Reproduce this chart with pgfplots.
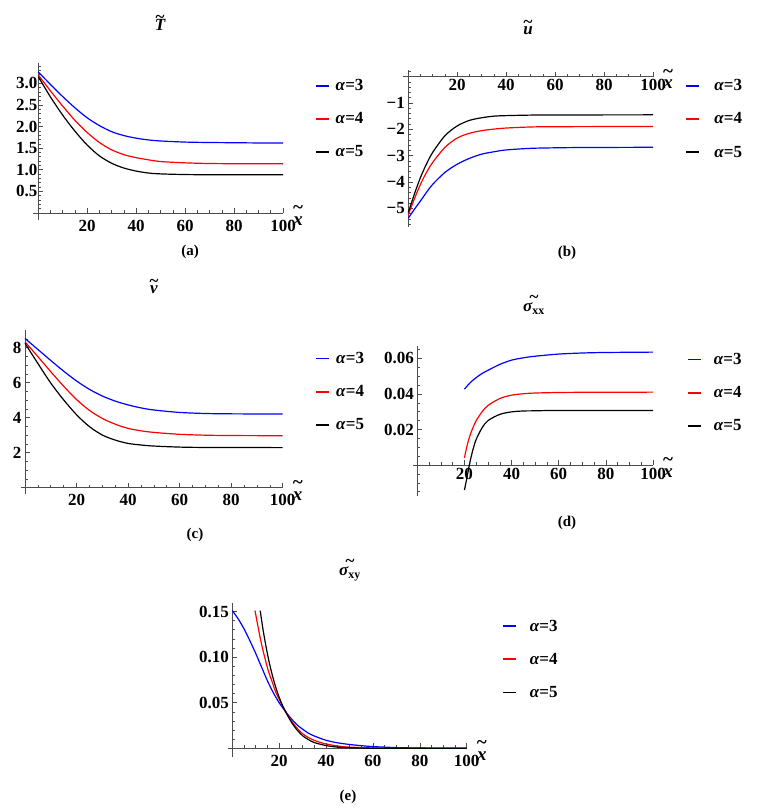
\documentclass[border=0pt]{standalone}
\usepackage{fontspec}
\setmainfont{Liberation Serif}
\usepackage{pgfplots}
\pgfplotsset{compat=1.18}
\newcommand\tld[2]{\ooalign{#2\cr\hidewidth\raisebox{#1}{\bfseries\upshape\char"7E}\hidewidth\cr}}
\newcommand\xt{{\fontsize{19}{22}\selectfont\tld{0.62em}{\bfseries\itshape x}}}
\newcommand\tfont{\fontsize{17}{20}\selectfont\bfseries}
\pgfplotsset{
  panel/.style={
    scale only axis, clip=false,
    axis lines=middle,
    every inner x axis line/.append style={-},
    every inner y axis line/.append style={-},
    axis line style={black!70, line width=0.7pt},
    tick align=inside,
    major tick length=5pt, minor tick length=3pt,
    every tick/.style={black!70, line width=0.6pt},
    tick label style={font=\tfont},
    scaled x ticks=false, scaled y ticks=false,
    xmax=100,
    xtick={20,40,60,80,100}, xticklabels={20,40,60,80,100},
    minor xtick={5,10,15,25,30,35,45,50,55,65,70,75,85,90,95},
    xlabel={\xt},
    xlabel style={at={(current axis.right of origin)}, anchor=center, xshift=15pt, yshift=-8pt},
    legend style={draw=none, fill=none, inner sep=0pt, anchor=west, font=\tfont,
      row sep=16.5pt, cells={inner sep=0pt}},
    legend cell align=left,
    legend image code/.code={\draw[line width=1.8pt,#1] (0pt,0pt) -- (13.3pt,0pt);},
  },
  cb/.style={draw=blue, line width=1.2pt, smooth},
  cr/.style={draw=red, line width=1.2pt, smooth},
  ck/.style={draw=black, line width=1.2pt, smooth},
}
\newcommand\threelegend{%
  \addlegendimage{draw=blue}\addlegendentry{\textit{α}=3}
  \addlegendimage{draw=red}\addlegendentry{\textit{α}=4}
  \addlegendimage{draw=black}\addlegendentry{\textit{α}=5}}
\begin{document}
\begin{tikzpicture}
\useasboundingbox (0,0) rectangle (761pt,809pt);
% (a)
\begin{axis}[panel, at={(33.4pt,589pt)}, anchor=south west, width=249.6pt, height=156.7pt,
  xmin=-2, ymin=-0.16, ymax=3.46,
  ytick={0.5,1.0,1.5,2.0,2.5,3.0}, yticklabels={0.5,1.0,1.5,2.0,2.5,3.0},
  minor ytick={0.1,0.2,0.3,0.4,0.6,0.7,0.8,0.9,1.1,1.2,1.3,1.4,1.6,1.7,1.8,1.9,2.1,2.2,2.3,2.4,2.6,2.7,2.8,2.9,3.1,3.2,3.3,3.4},
  xticklabel style={yshift=-4pt}, yticklabel style={xshift=2.5pt},
  legend style={at={(1.128,0.645)}, column sep=3.4pt}]
\threelegend
\addplot[cb, forget plot] coordinates {(0,3.26)(5,2.97)(10,2.69)(15,2.43)(20,2.20)(25,2.02)(30,1.88)(35,1.79)(40,1.73)(45,1.69)(50,1.665)(60,1.64)(70,1.63)(80,1.625)(90,1.62)(100,1.62)};
\addplot[cr, forget plot] coordinates {(0,3.19)(5,2.82)(10,2.47)(15,2.14)(20,1.86)(25,1.63)(30,1.46)(35,1.35)(40,1.28)(45,1.23)(50,1.19)(60,1.16)(70,1.145)(80,1.14)(90,1.14)(100,1.14)};
\addplot[ck, forget plot] coordinates {(0,3.15)(5,2.68)(10,2.26)(15,1.89)(20,1.57)(25,1.32)(30,1.15)(35,1.04)(40,0.97)(45,0.925)(50,0.905)(60,0.89)(70,0.885)(80,0.885)(100,0.885)};
\end{axis}
% (b)
\begin{axis}[panel, at={(403.4pt,582.3pt)}, anchor=south west, width=249.6pt, height=156.7pt,
  xmin=-2, ymin=-5.69, ymax=0.25,
  ytick={-5,-4,-3,-2,-1}, yticklabels={−5,−4,−3,−2,−1},
  minor ytick={-5.6,-5.4,-5.2,-4.8,-4.6,-4.4,-4.2,-3.8,-3.6,-3.4,-3.2,-2.8,-2.6,-2.4,-2.2,-1.8,-1.6,-1.4,-1.2,-0.8,-0.6,-0.4,-0.2,0.2},
  xticklabel style={yshift=1pt},
  legend style={at={(1.128,0.687)}, column sep=12pt}]
\threelegend
\addplot[cb, forget plot] coordinates {(0,-5.37)(2.5,-5.03)(5,-4.71)(7.5,-4.38)(10,-4.08)(15,-3.63)(20,-3.32)(25,-3.10)(30,-2.94)(35,-2.85)(40,-2.78)(50,-2.72)(60,-2.70)(70,-2.69)(100,-2.68)};
\addplot[cr, forget plot] coordinates {(0,-5.24)(2.5,-4.63)(5,-4.08)(7.5,-3.62)(10,-3.25)(15,-2.68)(20,-2.33)(25,-2.15)(30,-2.05)(35,-1.99)(40,-1.95)(50,-1.91)(60,-1.90)(100,-1.89)};
\addplot[ck, forget plot] coordinates {(0,-5.15)(2.5,-4.45)(5,-3.82)(7.5,-3.30)(10,-2.87)(15,-2.24)(20,-1.87)(25,-1.66)(30,-1.56)(35,-1.50)(40,-1.48)(50,-1.46)(60,-1.455)(100,-1.45)};
\end{axis}
% (c)
\begin{axis}[panel, at={(20.6pt,315pt)}, anchor=south west, width=262.1pt, height=163.8pt,
  xmin=-1.7, ymin=-0.36, ymax=9.0,
  ytick={2,4,6,8}, yticklabels={2,4,6,8},
  minor ytick={0.5,1,1.5,2.5,3,3.5,4.5,5,5.5,6.5,7,7.5,8.5},
  xticklabel style={yshift=-3pt},
  legend style={at={(1.123,0.625)}, column sep=4pt}]
\threelegend
\addplot[cb, forget plot] coordinates {(0,8.53)(5,7.90)(10,7.27)(15,6.66)(20,6.10)(25,5.62)(30,5.24)(35,4.95)(40,4.73)(45,4.56)(50,4.44)(60,4.30)(70,4.24)(80,4.22)(100,4.21)};
\addplot[cr, forget plot] coordinates {(0,8.34)(5,7.49)(10,6.63)(15,5.80)(20,5.04)(25,4.42)(30,3.96)(35,3.63)(40,3.39)(45,3.25)(50,3.16)(60,3.05)(70,3.00)(80,2.98)(100,2.97)};
\addplot[ck, forget plot] coordinates {(0,8.25)(5,7.10)(10,5.98)(15,5.02)(20,4.17)(25,3.49)(30,3.01)(35,2.72)(40,2.53)(45,2.44)(50,2.38)(60,2.32)(70,2.30)(100,2.29)};
\end{axis}
% (d)
\begin{axis}[panel, at={(413.3pt,313pt)}, anchor=south west, width=239.7pt, height=150.1pt,
  xmin=-1.7, ymin=-0.0174, ymax=0.067,
  ytick={0.02,0.04,0.06}, yticklabels={0.02,0.04,0.06},
  minor ytick={-0.015,-0.01,-0.005,0.005,0.01,0.015,0.025,0.03,0.035,0.045,0.05,0.055,0.065},
  xticklabel style={yshift=0pt},
  legend style={at={(1.142,0.688)}, column sep=9.5pt}]
\threelegend
\addplot[cb, forget plot] coordinates {(20,0.0427)(22.5,0.0464)(25,0.0492)(27.5,0.0515)(30,0.0533)(35,0.0566)(40,0.0590)(45,0.0603)(50,0.0612)(60,0.0624)(70,0.0630)(80,0.0633)(100,0.0635)};
\addplot[cr, forget plot] coordinates {(20,0.0041)(21,0.0103)(22,0.0152)(23,0.0190)(24,0.0222)(25,0.0250)(27.5,0.0300)(30,0.0335)(35,0.0374)(40,0.0393)(45,0.0401)(50,0.0405)(60,0.0408)(70,0.0409)(100,0.041)};
\addplot[ck, forget plot] coordinates {(20,-0.014)(21,-0.0075)(22,-0.0005)(23,0.0055)(24,0.0105)(25,0.0145)(27.5,0.021)(30,0.025)(35,0.0285)(40,0.0299)(45,0.0304)(50,0.0305)(60,0.0307)(100,0.0307)};
\end{axis}
% (e)
\begin{axis}[panel, at={(228.3pt,52.3pt)}, anchor=south west, width=238.4pt, height=153.4pt,
  xmin=-1.7, ymin=-0.0092, ymax=0.159,
  ytick={0.05,0.10,0.15}, yticklabels={0.05,0.10,0.15},
  minor ytick={0.01,0.02,0.03,0.04,0.06,0.07,0.08,0.09,0.11,0.12,0.13,0.14},
  xticklabel style={yshift=-3pt},
  legend style={at={(1.148,0.635)}, column sep=10.5pt}]
\threelegend
\addplot[cb, forget plot] coordinates {(0,0.151)(2.5,0.142)(5,0.131)(7.5,0.118)(10,0.104)(12.5,0.089)(15,0.074)(17.5,0.061)(20,0.050)(22.5,0.041)(25,0.033)(27.5,0.026)(30,0.021)(32.5,0.0165)(35,0.0135)(40,0.0088)(45,0.006)(50,0.0042)(55,0.0029)(60,0.0019)(70,0.0008)(80,0.0003)(90,0.0001)(100,0)};
\addplot[cr, forget plot] coordinates {(9.7,0.151)(11,0.133)(12.5,0.114)(14,0.098)(15.5,0.084)(17,0.073)(18.5,0.062)(20,0.054)(21.5,0.046)(22.8,0.0403)(25,0.031)(27.5,0.0225)(30,0.016)(32.5,0.0118)(35,0.0087)(37.5,0.0065)(40,0.0047)(45,0.0025)(50,0.0013)(60,0.0004)(70,0.0001)(100,0)};
\addplot[ck, forget plot] coordinates {(11.9,0.151)(13,0.132)(14,0.117)(15,0.1035)(16,0.0915)(17,0.081)(18,0.0716)(19,0.0633)(20,0.056)(21,0.0495)(22,0.0438)(22.8,0.0398)(25,0.0295)(27.5,0.0205)(30,0.0138)(32.5,0.0095)(35,0.0063)(40,0.003)(45,0.0013)(50,0.0005)(60,0.0001)(100,0)};
\end{axis}
% titles
\begin{scope}[every node/.style={font=\tfont\itshape, inner sep=0pt}]
\node at (160pt,784pt) {\tld{0.5em}{T}};
\node at (528pt,778pt) {\tld{0.45em}{u}};
\node at (154pt,519pt) {\tld{0.45em}{v}};
\node at (534pt,502pt) {\tld{0.5em}{σ\textsubscript{\upshape xx}}};
\node at (350pt,238pt) {\tld{0.5em}{σ\textsubscript{\upshape xy}}};
\end{scope}
\begin{scope}[every node/.style={font=\fontsize{15}{17}\selectfont\bfseries, inner sep=0pt}]
\node at (190pt,557pt) {(a)};
\node at (567pt,556pt) {(b)};
\node at (195pt,274pt) {(c)};
\node at (567pt,286pt) {(d)};
\node at (348pt,12pt) {(e)};
\end{scope}
\end{tikzpicture}
\end{document}
